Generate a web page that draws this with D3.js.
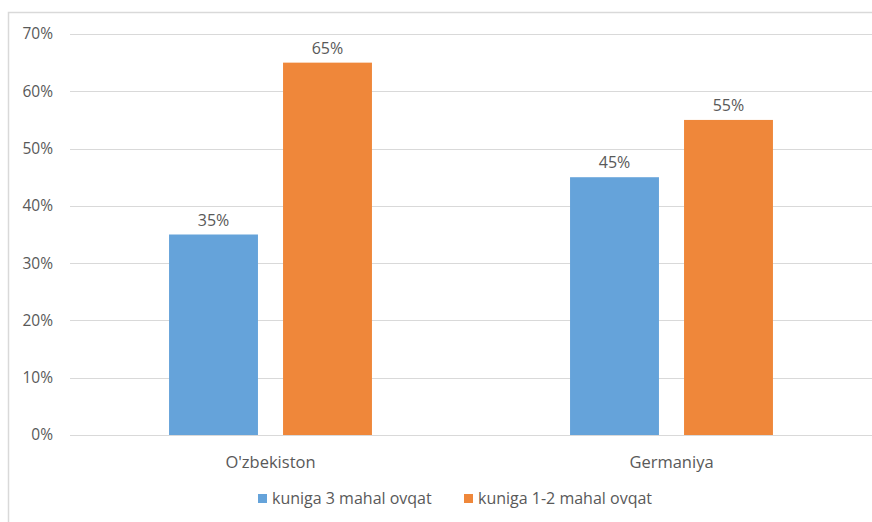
<!DOCTYPE html>
<html>
<head>
<meta charset="utf-8">
<script src="https://cdn.jsdelivr.net/npm/d3@7"></script>
<style>
  body { margin: 0; background: #fff; }
  text { font-family: "Open Sans", "Liberation Sans", sans-serif; fill: #595959; }
</style>
</head>
<body>
<svg id="chart"></svg>
<script>
var categories = ["O'zbekiston", "Germaniya"];
var seriesNames = ["kuniga 3 mahal ovqat", "kuniga 1-2 mahal ovqat"];
var series1 = [0.35, 0.45];
var series2 = [0.65, 0.55];
var yTicks = [0, 0.1, 0.2, 0.3, 0.4, 0.5, 0.6, 0.7];
var colors = ["#65a3da", "#ef873a"];

var width = 872;
var height = 522;
var plotLeft = 70, plotRight = 872, plotTop = 34, plotBottom = 435;

var svg = d3.select("#chart")
    .attr('width', width)
    .attr('height', height);

// chart frame
svg.append('rect')
    .attr('x', 8.5).attr('y', 12.5)
    .attr('width', 900).attr('height', 600)
    .attr('fill', 'none')
    .attr('stroke', '#d9d9d9')
    .attr('stroke-width', 1.5);

var x0 = d3.scaleBand()
    .domain(categories)
    .range([plotLeft, plotRight])
    .padding(0);
var bw = x0.bandwidth();
var x1 = d3.scaleBand()
    .domain([0, 1])
    .range([bw * 0.247, bw * 0.753])
    .paddingInner(0.22);
var y = d3.scaleLinear()
    .domain([0, 0.7])
    .range([plotBottom, plotTop]);

// gridlines
svg.append('g')
    .selectAll('line')
    .data(yTicks)
    .enter()
    .append('line')
    .attr('x1', plotLeft).attr('x2', plotRight)
    .attr('y1', function (d) { return Math.round(y(d)) + 0.5; })
    .attr('y2', function (d) { return Math.round(y(d)) + 0.5; })
    .attr('stroke', '#d9d9d9')
    .attr('stroke-width', 1);

var yAxis = d3.axisLeft(y)
    .tickValues(yTicks)
    .tickFormat(d3.format('.0%'))
    .tickSize(0)
    .tickPadding(17);
var ga = svg.append('g')
    .attr('transform', 'translate(' + plotLeft + ',0)')
    .call(yAxis);
ga.select('.domain').remove();
ga.selectAll('text').attr('font-size', 15.5).style('fill', '#595959')
    .attr('font-family', '"Open Sans", sans-serif');

var table = categories.map(function (c, i) {
    return { cat: c, vals: [series1[i], series2[i]] };
});

var groups = svg.append('g')
    .selectAll('g')
    .data(table)
    .enter()
    .append('g')
    .attr('transform', function (d) { return 'translate(' + x0(d.cat) + ',0)'; });

groups.selectAll('rect')
    .data(function (d) { return d.vals; })
    .enter()
    .append('rect')
    .attr('x', function (d, i) { return x1(i); })
    .attr('y', function (d) { return y(d); })
    .attr('width', x1.bandwidth())
    .attr('height', function (d) { return plotBottom - y(d); })
    .attr('fill', function (d, i) { return colors[i]; });

groups.selectAll('text.lbl')
    .data(function (d) { return d.vals; })
    .enter()
    .append('text')
    .attr('class', 'lbl')
    .attr('x', function (d, i) { return x1(i) + x1.bandwidth() / 2; })
    .attr('y', function (d) { return y(d) - 9; })
    .attr('text-anchor', 'middle')
    .attr('font-size', 16)
    .text(function (d) { return d3.format('.0%')(d); });

// category labels
svg.append('g')
    .selectAll('text')
    .data(categories)
    .enter()
    .append('text')
    .attr('x', function (d) { return x0(d) + bw / 2; })
    .attr('y', 468)
    .attr('text-anchor', 'middle')
    .attr('font-size', 16.5)
    .text(function (d) { return d; });

// legend
var legX = [258, 464];
var leg = svg.append('g')
    .selectAll('g')
    .data(seriesNames)
    .enter()
    .append('g')
    .attr('transform', function (d, i) { return 'translate(' + legX[i] + ',494)'; });
leg.append('rect')
    .attr('width', 9).attr('height', 9)
    .attr('fill', function (d, i) { return colors[i]; });
leg.append('text')
    .attr('x', 14).attr('y', 10)
    .attr('font-size', 16)
    .text(function (d) { return d; });
</script>
</body>
</html>
